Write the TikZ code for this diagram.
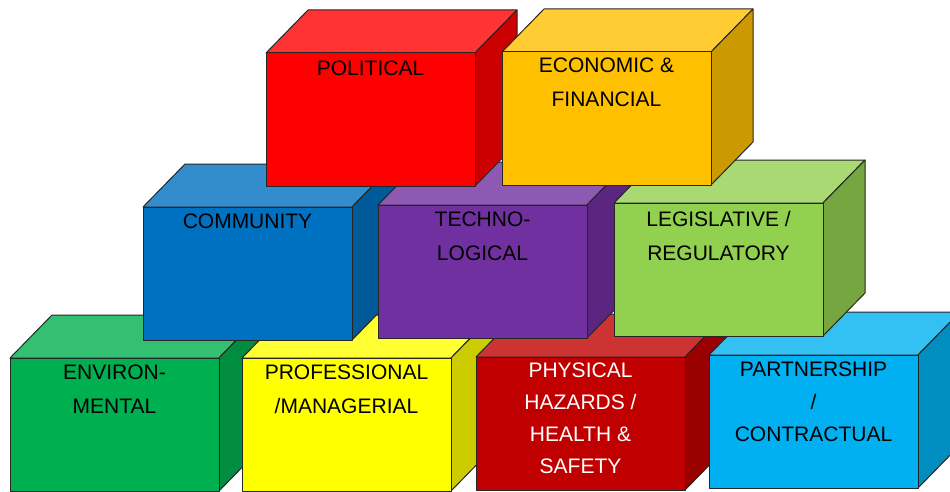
\documentclass[tikz,border=0pt]{standalone}
\usepackage{fontspec}
\setmainfont{Liberation Sans}
\definecolor{polF}{HTML}{FF0000}\definecolor{polT}{HTML}{FF3333}\definecolor{polS}{HTML}{CC0000}
\definecolor{ecoF}{HTML}{FFC000}\definecolor{ecoT}{HTML}{FFCD33}\definecolor{ecoS}{HTML}{CC9A00}
\definecolor{comF}{HTML}{0070C0}\definecolor{comT}{HTML}{338DCD}\definecolor{comS}{HTML}{005A9A}
\definecolor{tecF}{HTML}{7030A0}\definecolor{tecT}{HTML}{8D59B3}\definecolor{tecS}{HTML}{5A2680}
\definecolor{legF}{HTML}{92D050}\definecolor{legT}{HTML}{A8D973}\definecolor{legS}{HTML}{75A640}
\definecolor{envF}{HTML}{00B050}\definecolor{envT}{HTML}{33C073}\definecolor{envS}{HTML}{008D40}
\definecolor{proF}{HTML}{FFFF00}\definecolor{proT}{HTML}{FFFF33}\definecolor{proS}{HTML}{CCCC00}
\definecolor{phyF}{HTML}{C00000}\definecolor{phyT}{HTML}{CD3333}\definecolor{phyS}{HTML}{9A0000}
\definecolor{parF}{HTML}{00B0F0}\definecolor{parT}{HTML}{33C0F3}\definecolor{parS}{HTML}{008DC0}
\tikzset{
  edge/.style={draw=black!85, line width=1pt, line join=round},
  cubetext/.style={font=\fontsize{21}{34}\selectfont, align=center, anchor=north, inner sep=0pt, text=black},
}
% #1 x, #2 y (front top-left, pixel coords), #3 colour prefix
\newcommand\riskcube[3]{%
  \draw[edge, fill=#3T] (#1,#2) -- ++(42,-43) -- ++(209,0) -- ++(-42,43) -- cycle;
  \draw[edge, fill=#3S] (#1+209,#2) -- ++(42,-43) -- ++(0,133) -- ++(-42,43) -- cycle;
  \draw[edge, fill=#3F] (#1,#2) rectangle ++(209,133);
}
\begin{document}
\begin{tikzpicture}[x=1pt,y=-1pt]
\useasboundingbox (0,0) rectangle (950,492);
\clip (0,0) rectangle (950,492);
% bottom row
\riskcube{10}{358}{env}
\node[cubetext] (env) at (114.5,365) {ENVIRON-\\MENTAL};
\riskcube{242}{358}{pro}
\node[cubetext] (pro) at (346.5,365) {PROFESSIONAL\\/MANAGERIAL};
\riskcube{476}{357}{phy}
\node[cubetext, text=white, font=\fontsize{21}{32}\selectfont] (phy) at (580.5,363) {PHYSICAL\\HAZARDS /\\HEALTH \&\\SAFETY};
\riskcube{709}{355}{par}
\node[cubetext, font=\fontsize{21}{32.5}\selectfont] (par) at (813.5,362) {PARTNERSHIP\\/\\CONTRACTUAL};
% middle row
\riskcube{143}{207}{com}
\node[cubetext] (com) at (247.5,214) {COMMUNITY};
\riskcube{378}{205}{tec}
\node[cubetext] (tec) at (482.5,212) {TECHNO-\\LOGICAL};
\riskcube{614}{203}{leg}
\node[cubetext] (leg) at (718.5,211) {LEGISLATIVE /\\REGULATORY};
% top row
\riskcube{266}{53}{pol}
\node[cubetext] (pol) at (370.5,61) {POLITICAL};
\riskcube{502}{52}{eco}
\node[cubetext] (eco) at (606.5,58) {ECONOMIC \&\\FINANCIAL};
\end{tikzpicture}
\end{document}
